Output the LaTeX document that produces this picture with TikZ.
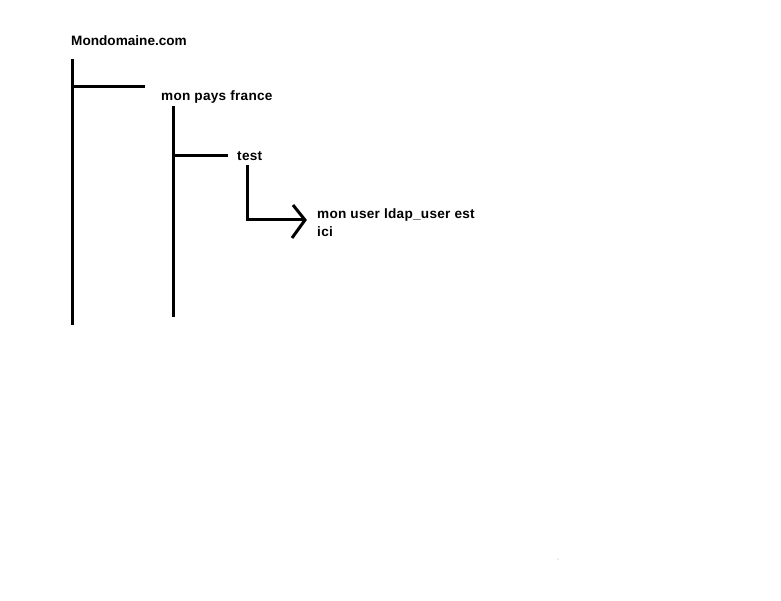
\documentclass[tikz,border=0pt]{standalone}
\usepackage{fontspec}
\setmainfont{Liberation Sans}
\begin{document}
\begin{tikzpicture}[x=1pt,y=1pt,
  lbl/.style={anchor=base west,inner sep=0pt,font=\bfseries\fontsize{13.6}{18}\selectfont},
  wide/.style={font=\bfseries\fontsize{13.6}{18}\selectfont\addfontfeature{LetterSpace=2}},
  bar/.style={line width=3pt,black},
  chev/.style={line width=3pt,black,line cap=butt}]
\useasboundingbox[fill=white] (0,0) rectangle (781,600);
% texts
\node[lbl] (root) at (71,554) {Mondomaine.com};
\node[lbl,wide] (pays) at (161,499) {mon pays france};
\node[lbl,wide] (test) at (237,439) {test};
\node[lbl,wide] (user1) at (317,381) {mon user ldap\_user est};
\node[lbl,wide] (user2) at (317,363) {ici};
% tree line coordinates
\coordinate (v1t) at (72,541);
\coordinate (v1b) at (72,275);
\coordinate (h1e) at (145,513);
\coordinate (v2t) at (173,494);
\coordinate (v2b) at (173,283);
\coordinate (h2e) at (228,444);
\coordinate (v3t) at (247,435);
\coordinate (corner) at (247,380);
\coordinate (tip) at (305,380);
\coordinate (cht) at (293,395);
\coordinate (chb) at (292,362);
% connectors
\draw[bar] (v1t) -- (v1b);
\draw[bar] (v1t |- h1e) -- (h1e);
\draw[bar] (v2t) -- (v2b);
\draw[bar] (v2t |- h2e) -- (h2e);
\draw[bar] (v3t) -- (corner) -- (tip);
\draw[chev,line join=miter] (cht) -- (tip) -- (chb);
\fill[gray!60] (558,41) circle (0.6);
\end{tikzpicture}
\end{document}
